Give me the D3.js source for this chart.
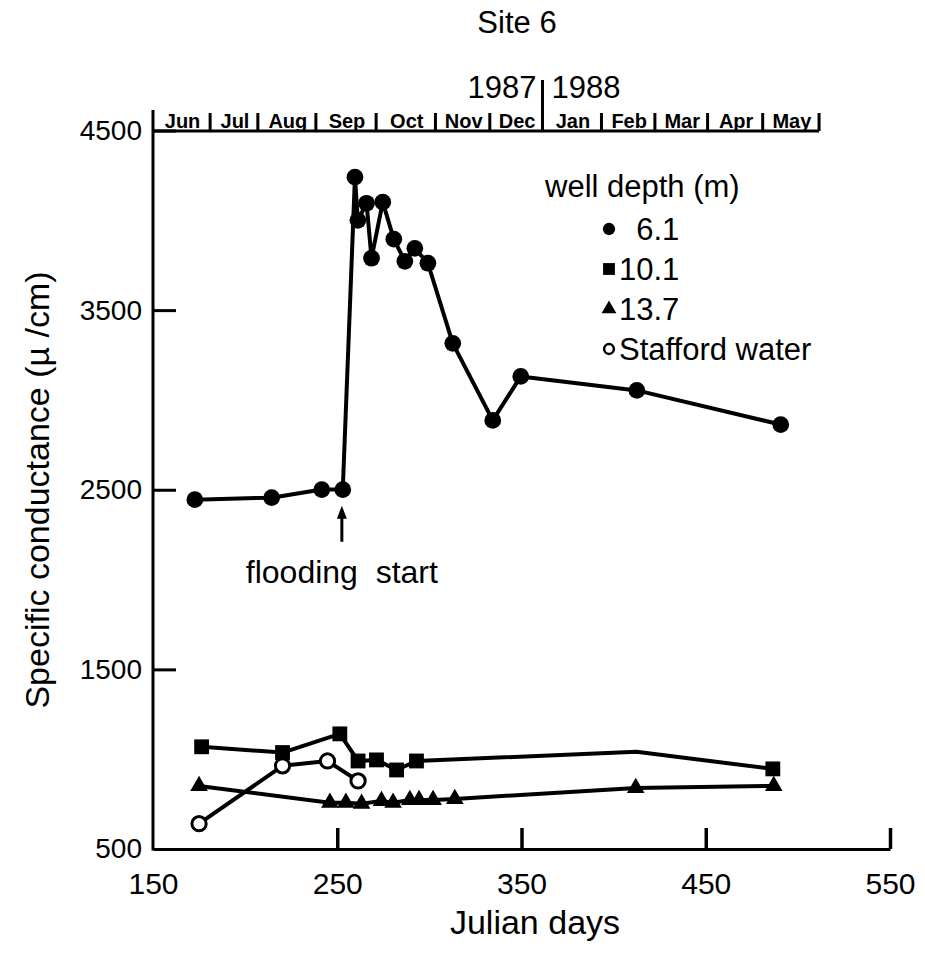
<!DOCTYPE html>
<html>
<head>
<meta charset="utf-8">
<script src="https://cdn.jsdelivr.net/npm/d3@7"></script>
<style>
  html, body { margin: 0; padding: 0; background: #fff; }
  svg { display: block; }
  text { font-family: "Liberation Sans", Arial, Helvetica, sans-serif; fill: #000; }
</style>
</head>
<body>
<svg id="chart" width="925" height="956"></svg>
<script>
// ---------------- data ----------------
const xTicks = [150, 250, 350, 450, 550];
const yTicks = [500, 1500, 2500, 3500, 4500];

// well depth 6.1 m (filled circles)
const d61_days = [172.7, 214.4, 241.6, 253.0, 259.6, 261.2, 265.9, 268.6, 274.7, 280.7, 286.7, 292.1, 299.2, 312.7, 334.4, 349.6, 412.6, 490.7];
const d61_vals = [2445, 2456, 2501, 2501, 4240, 4000, 4095, 3789, 4101, 3895, 3772, 3844, 3761, 3315, 2886, 3131, 3053, 2863];

// well depth 10.1 m (filled squares)
const d101_days = [176.4, 220.3, 251.4, 261.3, 271.3, 282.2, 293.0, 412.4, 486.4];
const d101_vals = [1069, 1037, 1141, 990, 996, 940, 990, 1041, 946];
const d101_marked = [true, true, true, true, true, true, true, false, true];

// well depth 13.7 m (filled triangles)
const d137_days = [175.0, 246.0, 254.7, 263.2, 274.0, 280.3, 289.4, 294.4, 302.0, 313.8, 412.0, 486.9];
const d137_vals = [851, 758, 758, 752, 768, 758, 773, 773, 773, 779, 840, 851];

// Stafford water (open circles)
const staf_days = [175.0, 220.3, 244.7, 261.3];
const staf_vals = [641, 963, 990, 879];

// month bar (Julian day at each month boundary)
const monthNames = ["Jun", "Jul", "Aug", "Sep", "Oct", "Nov", "Dec", "Jan", "Feb", "Mar", "Apr", "May"];
const monthBounds = [150, 181.0, 206.9, 238.4, 271.1, 303.3, 332.8, 361.4, 393.4, 422.4, 451.0, 480.9, 511.5];
const yearLabels = ["1987", "1988"];
const yearBoundIndex = 7; // boundary between Dec and Jan

const floodDay = 252.5;

const legendTitle = "well depth (m)";
const legendLabels = ["\u00a0\u00a06.1", "10.1", "13.7", "Stafford water"];

// ---------------- layout ----------------
const svg = d3.select("#chart");
const x = d3.scaleLinear().domain([150, 550]).range([153, 890]);
const y = d3.scaleLinear().domain([500, 4500]).range([849, 130.5]);
const monthLineY = 131;
const monthTickTop = 110;
const LW = 4;
const FS = "31px";

// title
svg.append("text").attr("x", 517).attr("y", 33).attr("text-anchor", "middle")
  .style("font-size", "31px").text("Site 6");

// x axis
const gx = svg.append("g").attr("transform", `translate(0,${y(500)})`)
  .call(d3.axisBottom(x).tickValues(xTicks).tickFormat(d3.format("d"))
    .tickSize(-21).tickSizeOuter(0).tickPadding(24));
gx.select(".domain").attr("stroke-width", 3);
gx.selectAll(".tick line").attr("stroke-width", 3.5);
gx.selectAll(".tick").filter(d => d === 150).select("line").remove();
gx.selectAll(".tick text").style("font-size", "30px").attr("font-family", null);

// y axis
const gy = svg.append("g").attr("transform", `translate(${x(150)},0)`)
  .call(d3.axisLeft(y).tickValues(yTicks).tickFormat(d3.format("d"))
    .tickSize(-23).tickSizeOuter(0).tickPadding(11));
gy.select(".domain").remove();
gy.selectAll(".tick line").attr("stroke-width", 3);
gy.selectAll(".tick").filter(d => d === 500).select("line").remove();
gy.selectAll(".tick text").style("font-size", "28px").attr("font-family", null);
// left axis line, extended up to the month bar
svg.append("line").attr("x1", x(150)).attr("x2", x(150))
  .attr("y1", y(500) + 1.5).attr("y2", monthTickTop)
  .attr("stroke", "#000").attr("stroke-width", 3);

// axis titles
svg.append("text").attr("x", 535).attr("y", 934).attr("text-anchor", "middle")
  .style("font-size", "34px").text("Julian days");
svg.append("text").attr("transform", `translate(49,490) rotate(-90)`)
  .attr("text-anchor", "middle").style("font-size", "34px")
  .text("Specific conductance (\u00b5 /cm)");

// month bar
const mb = svg.append("g");
mb.append("line").attr("x1", x(monthBounds[0])).attr("x2", x(monthBounds[monthBounds.length - 1]))
  .attr("y1", monthLineY).attr("y2", monthLineY).attr("stroke", "#000").attr("stroke-width", 3);
mb.selectAll("line.sep").data(monthBounds.slice(1)).join("line").attr("class", "sep")
  .attr("x1", d => x(d)).attr("x2", d => x(d))
  .attr("y1", monthLineY).attr("y2", monthTickTop + 3)
  .attr("stroke", "#000").attr("stroke-width", 3);
mb.selectAll("text.month").data(monthNames).join("text").attr("class", "month")
  .attr("x", (d, i) => (x(monthBounds[i]) + x(monthBounds[i + 1])) / 2 + 1)
  .attr("y", monthLineY - 3).attr("text-anchor", "middle")
  .style("font-size", "20px").style("font-weight", "bold").text(d => d);
// year separator
const yb = x(monthBounds[yearBoundIndex]);
mb.append("line").attr("x1", yb).attr("x2", yb).attr("y1", monthLineY).attr("y2", 80)
  .attr("stroke", "#000").attr("stroke-width", 3);
mb.append("text").attr("x", yb - 6).attr("y", 98).attr("text-anchor", "end")
  .style("font-size", "31px").text(yearLabels[0]);
mb.append("text").attr("x", yb + 9).attr("y", 98).attr("text-anchor", "start")
  .style("font-size", "31px").text(yearLabels[1]);

// ---------------- series ----------------
const line = d3.line().x(d => x(d[0])).y(d => y(d[1]));
function zip(a, b) { return a.map((v, i) => [v, b[i]]); }

const s61 = zip(d61_days, d61_vals);
const s101 = zip(d101_days, d101_vals);
const s137 = zip(d137_days, d137_vals);
const sst = zip(staf_days, staf_vals);

[s61, s101, s137, sst].forEach(s => {
  svg.append("path").datum(s).attr("d", line).attr("fill", "none")
    .attr("stroke", "#000").attr("stroke-width", LW).attr("stroke-linejoin", "round");
});

const sym = (type, size) => d3.symbol().type(type).size(size);

svg.append("g").selectAll("path").data(s61).join("path")
  .attr("transform", d => `translate(${x(d[0])},${y(d[1])})`)
  .attr("d", sym(d3.symbolCircle, 220)).attr("fill", "#000");

svg.append("g").selectAll("path").data(s101.filter((d, i) => d101_marked[i])).join("path")
  .attr("transform", d => `translate(${x(d[0])},${y(d[1])})`)
  .attr("d", sym(d3.symbolSquare, 220)).attr("fill", "#000");

svg.append("g").selectAll("path").data(s137).join("path")
  .attr("transform", d => `translate(${x(d[0])},${y(d[1])})`)
  .attr("d", sym(d3.symbolTriangle, 135)).attr("fill", "#000");

svg.append("g").selectAll("path").data(sst).join("path")
  .attr("transform", d => `translate(${x(d[0])},${y(d[1])})`)
  .attr("d", sym(d3.symbolCircle, 160)).attr("fill", "#fff")
  .attr("stroke", "#000").attr("stroke-width", 3);

// flooding start annotation
const fx = x(floodDay);
const fy = y(2500);
svg.append("line").attr("x1", fx).attr("x2", fx).attr("y1", fy + 26).attr("y2", fy + 52)
  .attr("stroke", "#000").attr("stroke-width", 3);
svg.append("path").attr("d", `M${fx},${fy + 16} L${fx - 5},${fy + 29} L${fx + 5},${fy + 29} Z`).attr("fill", "#000");
svg.append("text").attr("x", fx).attr("y", fy + 93).attr("text-anchor", "middle")
  .style("font-size", "32px").style("white-space", "pre").text("flooding  start");

// ---------------- legend ----------------
const lg = svg.append("g");
lg.append("text").attr("x", 545).attr("y", 197).style("font-size", FS).text(legendTitle);
const legendSyms = [
  { t: d3.symbolCircle, s: 120, fill: "#000" },
  { t: d3.symbolSquare, s: 140, fill: "#000" },
  { t: d3.symbolTriangle, s: 95, fill: "#000" },
  { t: d3.symbolCircle, s: 75, fill: "#fff", stroke: true }
];
legendLabels.forEach((lab, i) => {
  const cy = 229 + i * 40;
  const p = lg.append("path").attr("transform", `translate(609,${cy})`)
    .attr("d", sym(legendSyms[i].t, legendSyms[i].s)).attr("fill", legendSyms[i].fill);
  if (legendSyms[i].stroke) p.attr("stroke", "#000").attr("stroke-width", 2.5);
  lg.append("text").attr("x", 619).attr("y", cy + 11).style("font-size", FS)
    .style("white-space", "pre").text(lab);
});
</script>
</body>
</html>
